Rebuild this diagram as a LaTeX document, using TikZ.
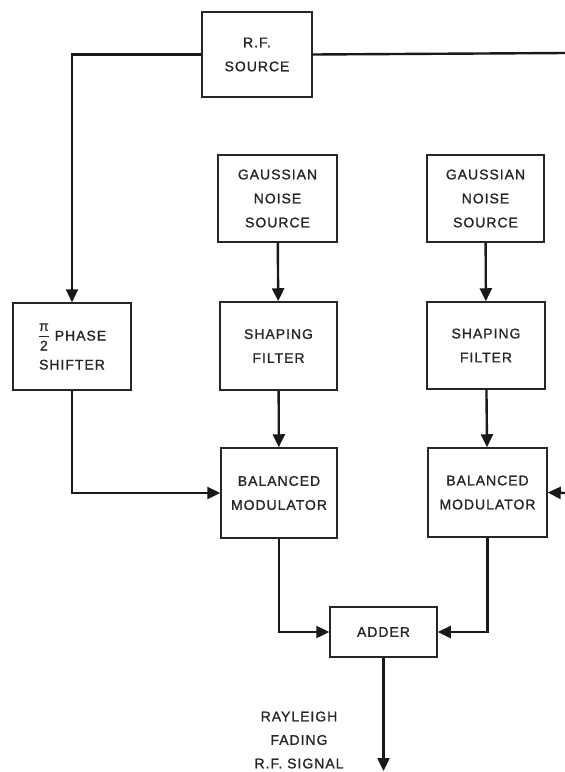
\documentclass[tikz,border=0pt]{standalone}
\usepackage{amsmath}
\usepackage{fontspec}
\setmainfont{Liberation Sans}[LetterSpace=7,FakeBold=1.2]
\usetikzlibrary{arrows.meta}
\newcommand{\halfpi}{\ensuremath{\genfrac{}{}{1.1pt}{0}{\mbox{π}}{\mbox{2}}}}
\begin{document}
\begin{tikzpicture}[x=1pt,y=-1pt,
  blk/.style={draw=black!85,line width=1.5pt,align=center,inner sep=0pt,
    font=\fontsize{14}{24}\selectfont,text=black!85},
  conn/.style={draw=black!90,line width=2.4pt},
  arr/.style={conn,-{Triangle[length=13pt,width=12pt]}},
  lbl/.style={align=center,font=\fontsize{14}{23.5}\selectfont,text=black!85}]
\useasboundingbox (0,0) rectangle (565,772);
\node[blk,minimum width=110pt,minimum height=85pt] (rf) at (257,54.5) {R.F.\\SOURCE};
\node[blk,minimum width=118pt,minimum height=87pt] (ps) at (72,346.5) {\halfpi\ PHASE\\[5pt]SHIFTER};
\node[blk,minimum width=119pt,minimum height=87pt] (g1) at (277.5,198.5) {GAUSSIAN\\NOISE\\SOURCE};
\node[blk,minimum width=117pt,minimum height=87pt] (g2) at (485.5,198.5) {GAUSSIAN\\NOISE\\SOURCE};
\node[blk,minimum width=117pt,minimum height=88pt] (s1) at (278.5,346) {SHAPING\\FILTER};
\node[blk,minimum width=118pt,minimum height=87pt] (s2) at (486,345.5) {SHAPING\\FILTER};
\node[blk,minimum width=116pt,minimum height=90pt] (m1) at (279,493) {BALANCED\\MODULATOR};
\node[blk,minimum width=119pt,minimum height=89pt] (m2) at (487.5,492.5) {BALANCED\\MODULATOR};
\node[blk,minimum width=107pt,minimum height=50pt] (ad) at (383.5,632) {ADDER};
\node[lbl] (out) at (299,740) {RAYLEIGH\\FADING\\R.F. SIGNAL};
\coordinate (rfR) at (565,53);
\coordinate (m2R) at (565,493);
\coordinate (adOut) at (383.5,771);
\draw[arr] (rf.west) -| (ps.north);
\draw[conn] (rf.east) -- (rfR);
\draw[arr] (g1) -- (s1);
\draw[arr] (g2) -- (s2);
\draw[arr] (s1) -- (m1);
\draw[arr] (s2) -- (m2);
\draw[arr] (ps.south) |- (m1.west);
\draw[arr] (m2R) -- (m2.east);
\draw[arr] (m1.south) |- (ad.west);
\draw[arr] (m2.south) |- (ad.east);
\draw[arr] (ad.south) -- (adOut);
\end{tikzpicture}
\end{document}
